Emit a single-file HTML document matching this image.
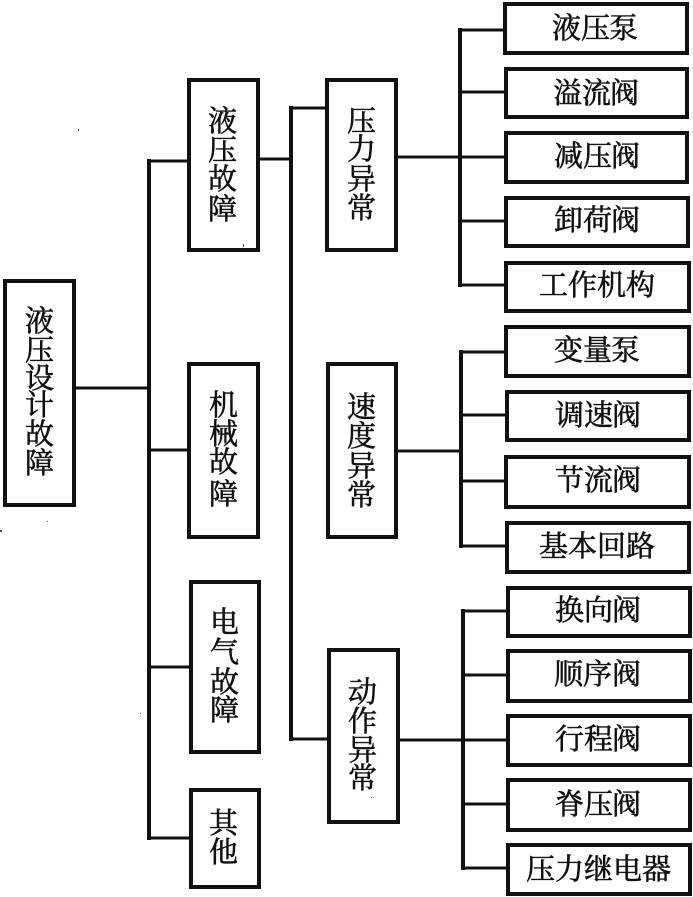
<!DOCTYPE html>
<html lang="zh">
<head>
<meta charset="utf-8">
<title>液压设计故障</title>
<style>
html,body{margin:0;padding:0;background:#fff;}
svg{display:block;}
text{font-family:"Liberation Serif","Noto Serif CJK SC",serif;font-size:29px;fill:#111;stroke:#111;stroke-width:.6px;}
.b{fill:#fff;stroke:#111;stroke-width:4;}
.l{stroke:#111;stroke-width:4;fill:none;}
.t{stroke:#111;stroke-width:3;fill:none;}
.s{fill:#555;}
</style>
</head>
<body>
<svg width="693" height="897" viewBox="0 0 693 897" xmlns="http://www.w3.org/2000/svg">
<!-- connectors -->
<path class="t" d="M76 388H149M149 161H187M149 450H187M149 667H189M149 838H189"/>
<path class="l" d="M149 159V840"/>
<path class="t" d="M260 159H291M291 108H325M291 739H327"/>
<path class="l" d="M291 106V741"/>
<path class="t" d="M398 157H460M460 30H503M460 92H504M460 157H504M460 221H504M460 285H504"/>
<path class="l" d="M460 28V287"/>
<path class="t" d="M398 451H461M461 352H504M461 415H505M461 481H504M461 546H505"/>
<path class="l" d="M461 350V548"/>
<path class="t" d="M400 740H463M463 611H506M463 675H506M463 740H506M463 804H506M463 868H506"/>
<path class="l" d="M463 609V870"/>
<!-- left boxes -->
<rect class="b" x="5" y="281" width="69" height="224"/>
<rect class="b" x="189" y="80" width="69" height="170"/>
<rect class="b" x="189" y="364" width="69" height="173"/>
<rect class="b" x="191" y="582" width="68" height="170"/>
<rect class="b" x="191" y="790" width="68" height="97"/>
<rect class="b" x="327" y="80" width="69" height="170"/>
<rect class="b" x="328" y="364" width="68" height="173"/>
<rect class="b" x="329" y="650" width="69" height="172"/>
<!-- right boxes -->
<rect class="b" x="505" y="4" width="182" height="49"/>
<rect class="b" x="506" y="69" width="181" height="48"/>
<rect class="b" x="506" y="133" width="181" height="49"/>
<rect class="b" x="506" y="198" width="182" height="48"/>
<rect class="b" x="506" y="263" width="183" height="48"/>
<rect class="b" x="506" y="327" width="183" height="49"/>
<rect class="b" x="507" y="392" width="182" height="48"/>
<rect class="b" x="506" y="457" width="183" height="50"/>
<rect class="b" x="507" y="523" width="182" height="49"/>
<rect class="b" x="508" y="588" width="182" height="48"/>
<rect class="b" x="508" y="651" width="182" height="50"/>
<rect class="b" x="508" y="716" width="182" height="49"/>
<rect class="b" x="508" y="780" width="182" height="50"/>
<rect class="b" x="508" y="845" width="182" height="49"/>
<!-- vertical labels -->
<text x="25 25 25 25 25 25" y="331 360 388 415 444 473">液压设计故障</text>
<text x="208 208 208 208" y="131 160 189 219">液压故障</text>
<text x="209 209 209 209" y="415 444 472 504">机械故障</text>
<text x="210 210 210 210" y="632 662 692 720">电气故障</text>
<text x="209 209" y="833 862">其他</text>
<text x="347 347 347 347" y="131 159 189 218">压力异常</text>
<text x="347 347 347 347" y="417 446 476 505">速度异常</text>
<text x="348 348 348 348" y="702 731 760 788">动作异常</text>
<!-- horizontal labels -->
<text x="552 581 609" y="38">液压泵</text>
<text x="553 582 610" y="103">溢流阀</text>
<text x="554 583 611" y="166">减压阀</text>
<text x="554 583 611" y="230">卸荷阀</text>
<text x="539 568 597 626" y="295">工作机构</text>
<text x="554 583 611" y="360">变量泵</text>
<text x="555 584 612" y="425">调速阀</text>
<text x="555 584 612" y="490">节流阀</text>
<text x="539 568 597 626" y="556">基本回路</text>
<text x="555 584 612" y="620">换向阀</text>
<text x="554 583 612" y="684">顺序阀</text>
<text x="555 584 612" y="749">行程阀</text>
<text x="555 584 612" y="814">脊压阀</text>
<text x="526 555 584 613 642" y="879">压力继电器</text>
<!-- scan specks -->
<rect class="s" x="78" y="129" width="1" height="2"/>
<rect class="s" x="243" y="244" width="1" height="3"/>
<rect class="s" x="0" y="530" width="2" height="2"/>
<rect class="s" x="47" y="521" width="1" height="1"/>
<rect class="s" x="140" y="713" width="1" height="1"/>
<rect class="s" x="371" y="797" width="1" height="1"/>
</svg>
</body>
</html>
